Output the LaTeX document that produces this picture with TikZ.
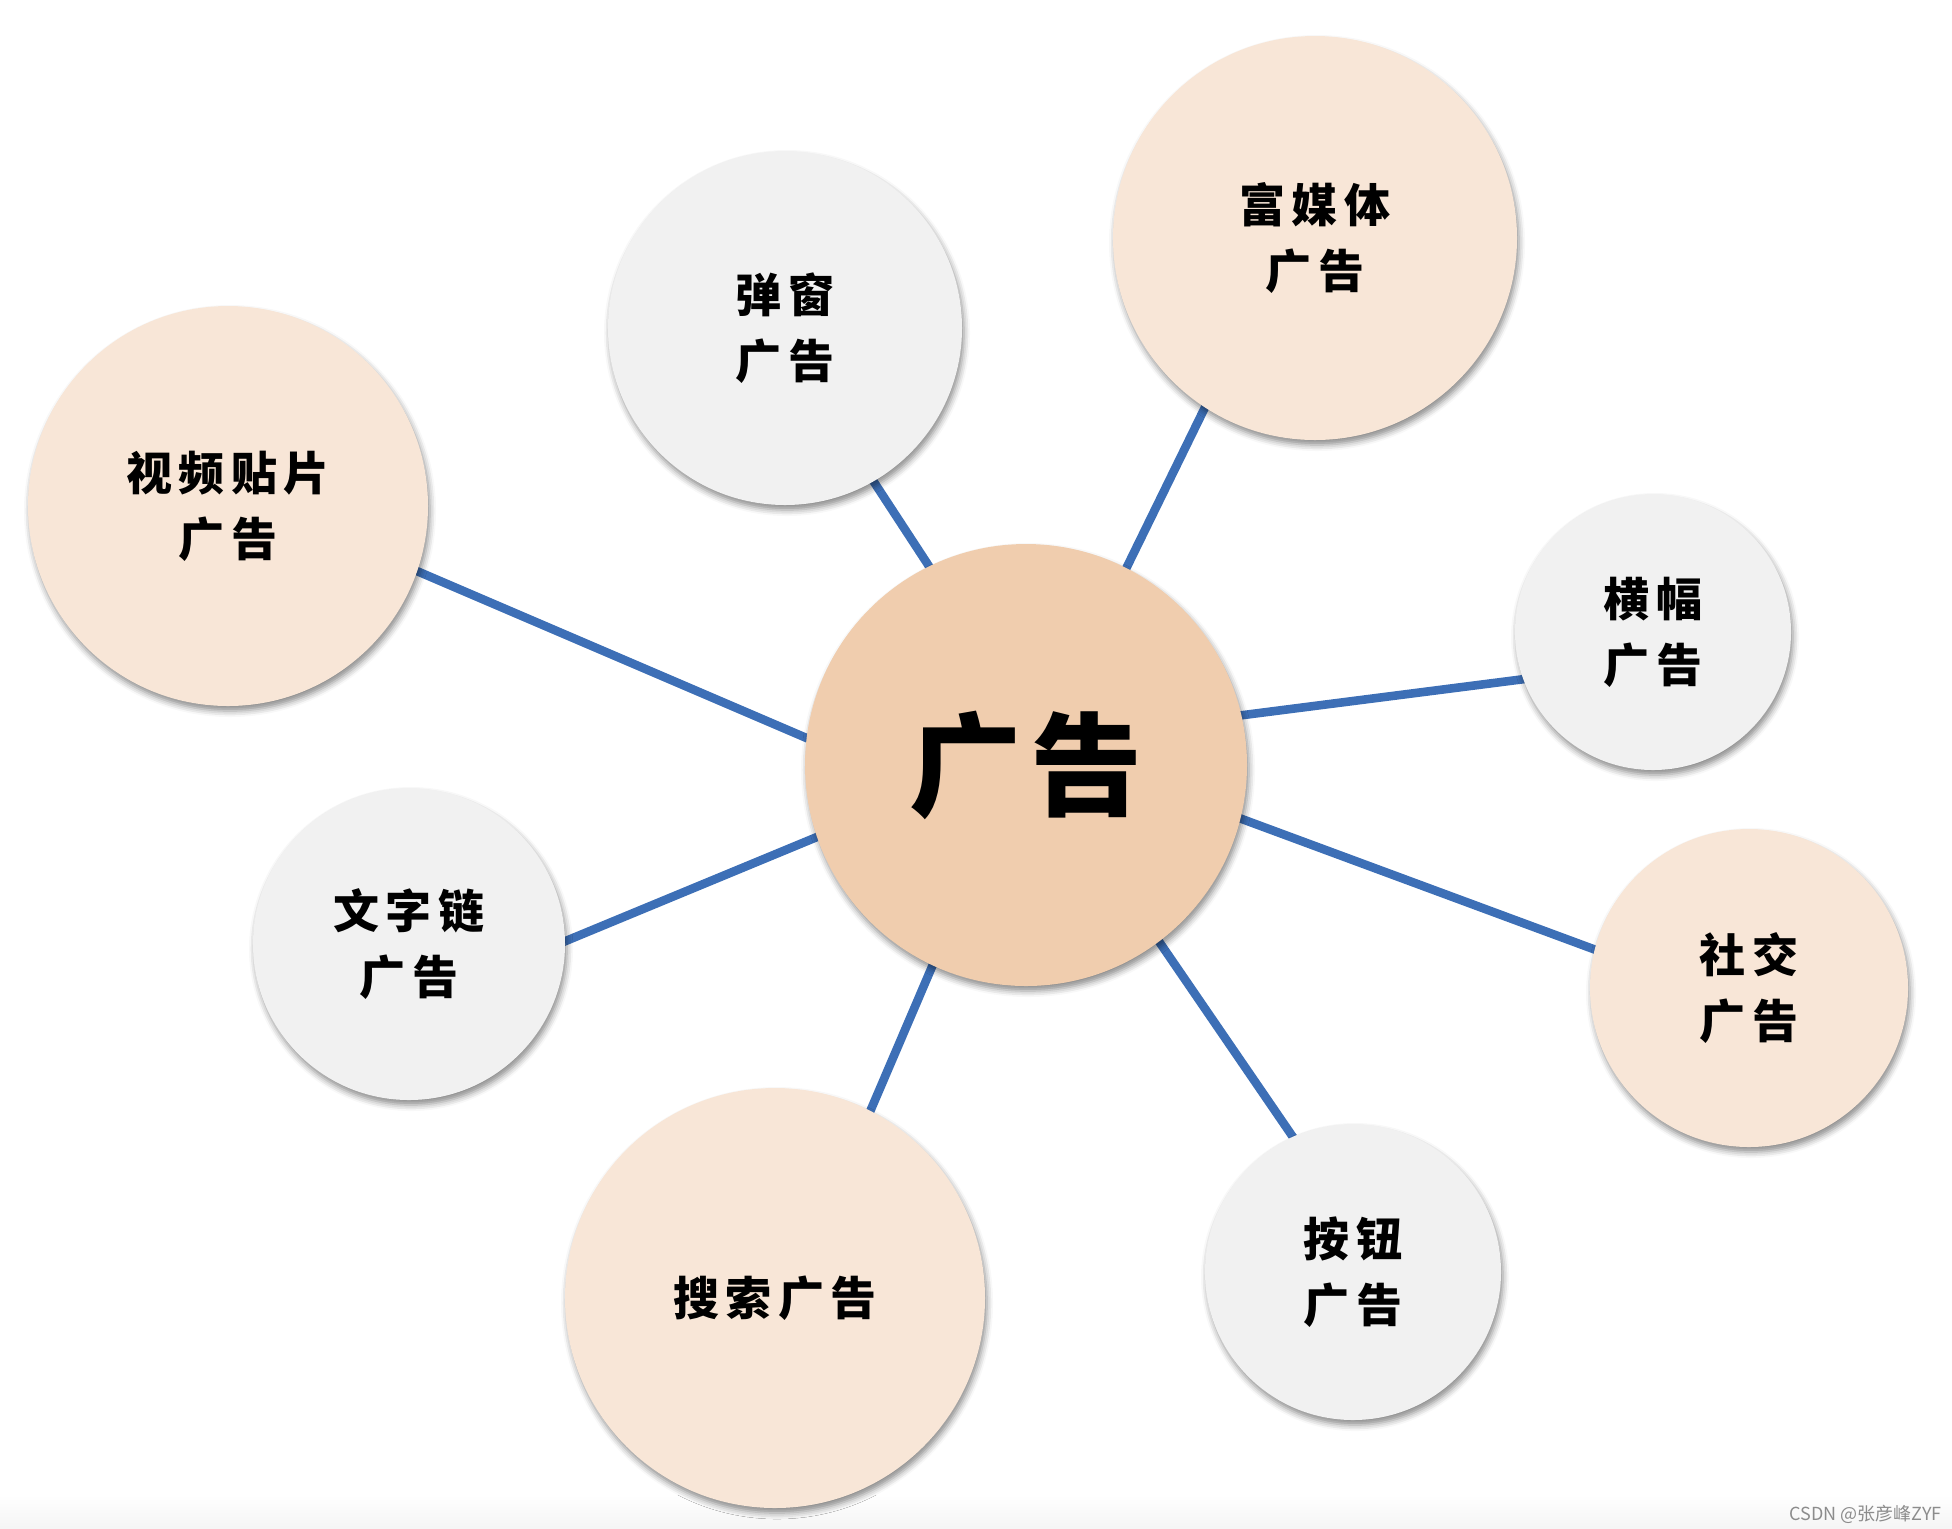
\documentclass[tikz,border=0pt]{standalone}
\usepackage{fontspec}
\newfontfamily\cjk{Noto Sans CJK SC}[LetterSpace=14]
\newfontfamily\cjkc{Noto Sans CJK SC}[LetterSpace=8]
\newfontfamily\wm{Noto Sans CJK SC}
\usetikzlibrary{shadows.blur,backgrounds}
\definecolor{centerc}{HTML}{F0CDAE}
\definecolor{peach}{HTML}{F8E6D7}
\definecolor{grayc}{HTML}{F1F1F1}
\definecolor{linec}{HTML}{3D6FB6}
\tikzset{
  bubble/.style={circle, inner sep=0pt, outer sep=0pt, align=center,
    font=\cjk\bfseries\fontsize{23}{33}\selectfont,
    blur shadow={shadow xshift=1pt, shadow yshift=-2.5pt, shadow blur radius=3pt, shadow opacity=45}},
  peachb/.style={bubble, fill=peach},
  grayb/.style={bubble, fill=grayc},
  link/.style={draw=linec, line width=4.3pt, shorten <=-4pt, shorten >=-4pt}
}
\begin{document}
\begin{tikzpicture}[x=0.5pt,y=-0.5pt]
\useasboundingbox (0,0) rectangle (1952,1528);
\shade[top color=white, bottom color=black!4] (0,1495) rectangle (1952,1528);
% nodes
\node[bubble, fill=centerc, minimum size=221pt, font=\cjkc\bfseries\fontsize{56}{60}\selectfont] (c) at (1026,765) {广告};
\node[peachb, minimum size=200pt] (sp) at (228,506) {视频贴片\\广告};
\node[grayb, minimum size=177pt] (tc) at (785,328) {弹窗\\广告};
\node[peachb, minimum size=202pt] (fm) at (1315,238) {富媒体\\广告};
\node[grayb, minimum size=138pt] (hf) at (1653,632) {横幅\\广告};
\node[peachb, minimum size=159pt] (sj) at (1749,988) {社交\\广告};
\node[grayb, minimum size=148pt] (an) at (1353,1272) {按钮\\广告};
\node[peachb, minimum size=210pt] (ss) at (775,1298) {搜索广告};
\node[grayb, minimum size=156pt] (wz) at (409,944) {文字链\\广告};
% connectors
\begin{pgfonlayer}{background}
\draw[link] (c.173.8) -- (sp.-19.1);
\draw[link] (c.199.8) -- (wz.1.5);
\draw[link] (c.245) -- (ss.63.4);
\draw[link] (c.-53.2) -- (an.114.7);
\draw[link] (c.-14) -- (sj.166);
\draw[link] (c.13.5) -- (hf.200.8);
\draw[link] (c.63.7) -- (fm.237.5);
\draw[link] (c.116.8) -- (tc.-60);
\end{pgfonlayer}
\node[font=\wm\fontsize{9}{10}\selectfont, text=black!45, anchor=east, inner sep=0pt] (wmk) at (1942,1514) {CSDN @张彦峰ZYF};
\end{tikzpicture}
\end{document}
